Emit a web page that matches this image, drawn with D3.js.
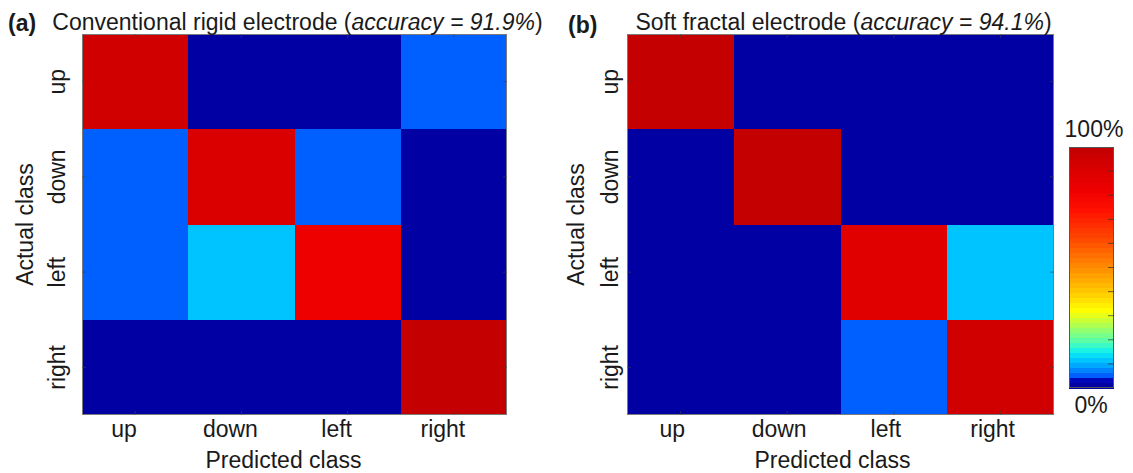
<!DOCTYPE html>
<html>
<head>
<meta charset="utf-8">
<script src="https://cdn.jsdelivr.net/npm/d3@7"></script>
<style>
  body { margin: 0; background: #fff; }
  svg { display: block; }
  text { font-family: "Liberation Sans", Arial, sans-serif; fill: #1a1a1a; }
</style>
</head>
<body>
<svg id="chart" width="1133" height="473"></svg>
<script>
// Confusion matrices, rows = actual class, columns = predicted class (percent)
const classes = ["up", "down", "left", "right"];
const rigidValues = [
  [95, 0, 0, 5],
  [5, 90, 5, 0],
  [5, 12.4, 82.6, 0],
  [0, 0, 0, 100]
];
const softValues = [
  [100, 0, 0, 0],
  [0, 100, 0, 0],
  [0, 0, 88, 12],
  [0, 0, 5, 95]
];
const panelTags = ["(a)", "(b)"];
const panelNames = ["Conventional rigid electrode", "Soft fractal electrode"];
const accuracies = ["91.9%", "94.1%"];
const xAxisTitle = "Predicted class";
const yAxisTitle = "Actual class";
const colorbarLabels = ["0%", "100%"];
const colorbarTicks = [0.1, 0.2, 0.3, 0.4, 0.5, 0.6, 0.7, 0.8, 0.9];

// Colour map: jet-like ramp compressed towards the low end, drawn in discrete steps
const rampStops = [0, 0.03, 0.038, 0.052, 0.07, 0.09, 0.12, 0.15, 0.19, 0.25, 0.32, 0.4, 0.5, 0.62, 0.74, 0.82, 0.9, 1];
const rampColors = ["#00009c", "#0000b0", "#0030e8", "#0060ff", "#0080ff", "#00a2ff", "#00ccff", "#10f0f0",
                    "#50ffb0", "#a0ff60", "#ffff00", "#ffc800", "#ff8c00", "#ff4800", "#ff1000", "#f00000", "#dc0000", "#c20000"];
const nSteps = 48;
const ramp = d3.scaleLinear().domain(rampStops).range(rampColors).interpolate(d3.interpolateRgb).clamp(true);
const stepIndex = f => Math.min(nSteps - 1, Math.max(0, Math.floor(f * nSteps)));
const colorOf = f => ramp((stepIndex(f) + 0.5) / nSteps);

const svg = d3.select("#chart");
const FS = 23;

const panels = [
  { values: rigidValues, x0: 82, x1: 507, tickOff: 17, titleOff: 49, xShift: -11, tagX: 8, tagY: 31 },
  { values: softValues, x0: 627, x1: 1054, tickOff: 9, titleOff: 43, xShift: -8, tagX: 568, tagY: 33 }
];
const plotTop = 34, plotBottom = 415;

panels.forEach((p, k) => {
  const x = d3.scaleBand().domain(classes).range([p.x0, p.x1]);
  const y = d3.scaleBand().domain(classes).range([plotTop, plotBottom]);
  const g = svg.append("g");

  // cells
  p.values.forEach((row, i) => {
    g.selectAll(null).data(row).join("rect")
      .attr("x", (d, j) => x(classes[j]))
      .attr("y", y(classes[i]))
      .attr("width", x.bandwidth())
      .attr("height", y.bandwidth())
      .attr("fill", d => colorOf(d / 100))
      .attr("shape-rendering", "crispEdges");
  });

  // frame
  g.append("rect")
    .attr("x", p.x0 + 0.5).attr("y", plotTop + 0.5)
    .attr("width", p.x1 - p.x0 - 1).attr("height", plotBottom - plotTop - 1)
    .attr("fill", "none").attr("stroke", "#7a7a7a").attr("stroke-width", 1);

  // inward tick marks on all four sides
  const tl = 4;
  classes.forEach(c => {
    const cx = x(c) + x.bandwidth() / 2, cy = y(c) + y.bandwidth() / 2;
    [[cx, plotTop, cx, plotTop + tl], [cx, plotBottom, cx, plotBottom - tl],
     [p.x0, cy, p.x0 + tl, cy], [p.x1, cy, p.x1 - tl, cy]].forEach(s => {
      g.append("line").attr("x1", s[0]).attr("y1", s[1]).attr("x2", s[2]).attr("y2", s[3])
        .attr("stroke", "#444").attr("stroke-width", 1).attr("opacity", 0.6);
    });
  });

  // x tick labels
  g.selectAll(null).data(classes).join("text")
    .attr("x", c => x(c) + x.bandwidth() / 2 + p.xShift)
    .attr("y", 437)
    .attr("text-anchor", "middle")
    .attr("font-size", FS)
    .text(c => c);

  // y tick labels (rotated)
  g.selectAll(null).data(classes).join("text")
    .attr("transform", c => `translate(${p.x0 - p.tickOff},${y(c) + y.bandwidth() / 2}) rotate(-90)`)
    .attr("text-anchor", "middle")
    .attr("font-size", FS)
    .text(c => c);

  // axis titles
  g.append("text")
    .attr("x", (p.x0 + p.x1) / 2 + p.xShift).attr("y", 468)
    .attr("text-anchor", "middle").attr("font-size", FS)
    .text(xAxisTitle);
  g.append("text")
    .attr("transform", `translate(${p.x0 - p.titleOff},${(plotTop + plotBottom) / 2}) rotate(-90)`)
    .attr("text-anchor", "middle").attr("font-size", FS)
    .text(yAxisTitle);

  // panel tag and title
  g.append("text")
    .attr("x", p.tagX).attr("y", p.tagY)
    .attr("font-size", FS).attr("font-weight", "bold")
    .text(panelTags[k]);
  const t = g.append("text")
    .attr("x", (p.x0 + p.x1) / 2 + 3).attr("y", 30)
    .attr("text-anchor", "middle").attr("font-size", FS);
  t.append("tspan").text(panelNames[k] + " (");
  t.append("tspan").attr("font-style", "italic").text("accuracy = " + accuracies[k]);
  t.append("tspan").text(")");
});

// colour bar
const cb = { x0: 1069, x1: 1114, y0: 147, y1: 388 };
const cbY = d3.scaleLinear().domain([0, 1]).range([cb.y1, cb.y0]);
const steps = d3.range(nSteps);
const cbg = svg.append("g");
cbg.selectAll(null).data(steps).join("rect")
  .attr("x", cb.x0)
  .attr("y", i => cbY((i + 1) / nSteps))
  .attr("width", cb.x1 - cb.x0)
  .attr("height", i => cbY(i / nSteps) - cbY((i + 1) / nSteps) + 0.5)
  .attr("fill", i => ramp((i + 0.5) / nSteps))
  .attr("shape-rendering", "crispEdges");
cbg.append("rect")
  .attr("x", cb.x0 + 0.5).attr("y", cb.y0 + 0.5)
  .attr("width", cb.x1 - cb.x0 - 1).attr("height", cb.y1 - cb.y0 - 1)
  .attr("fill", "none").attr("stroke", "#555").attr("stroke-width", 1);
cbg.selectAll(null).data(colorbarTicks).join("line")
  .attr("x1", cb.x1 - 6).attr("x2", cb.x1)
  .attr("y1", d => cbY(d)).attr("y2", d => cbY(d))
  .attr("stroke", "#333").attr("stroke-width", 1).attr("opacity", 0.7);
cbg.append("text")
  .attr("x", 1094).attr("y", 137)
  .attr("text-anchor", "middle").attr("font-size", 23)
  .text(colorbarLabels[1]);
cbg.append("text")
  .attr("x", 1091).attr("y", 413)
  .attr("text-anchor", "middle").attr("font-size", 23)
  .text(colorbarLabels[0]);
</script>
</body>
</html>
